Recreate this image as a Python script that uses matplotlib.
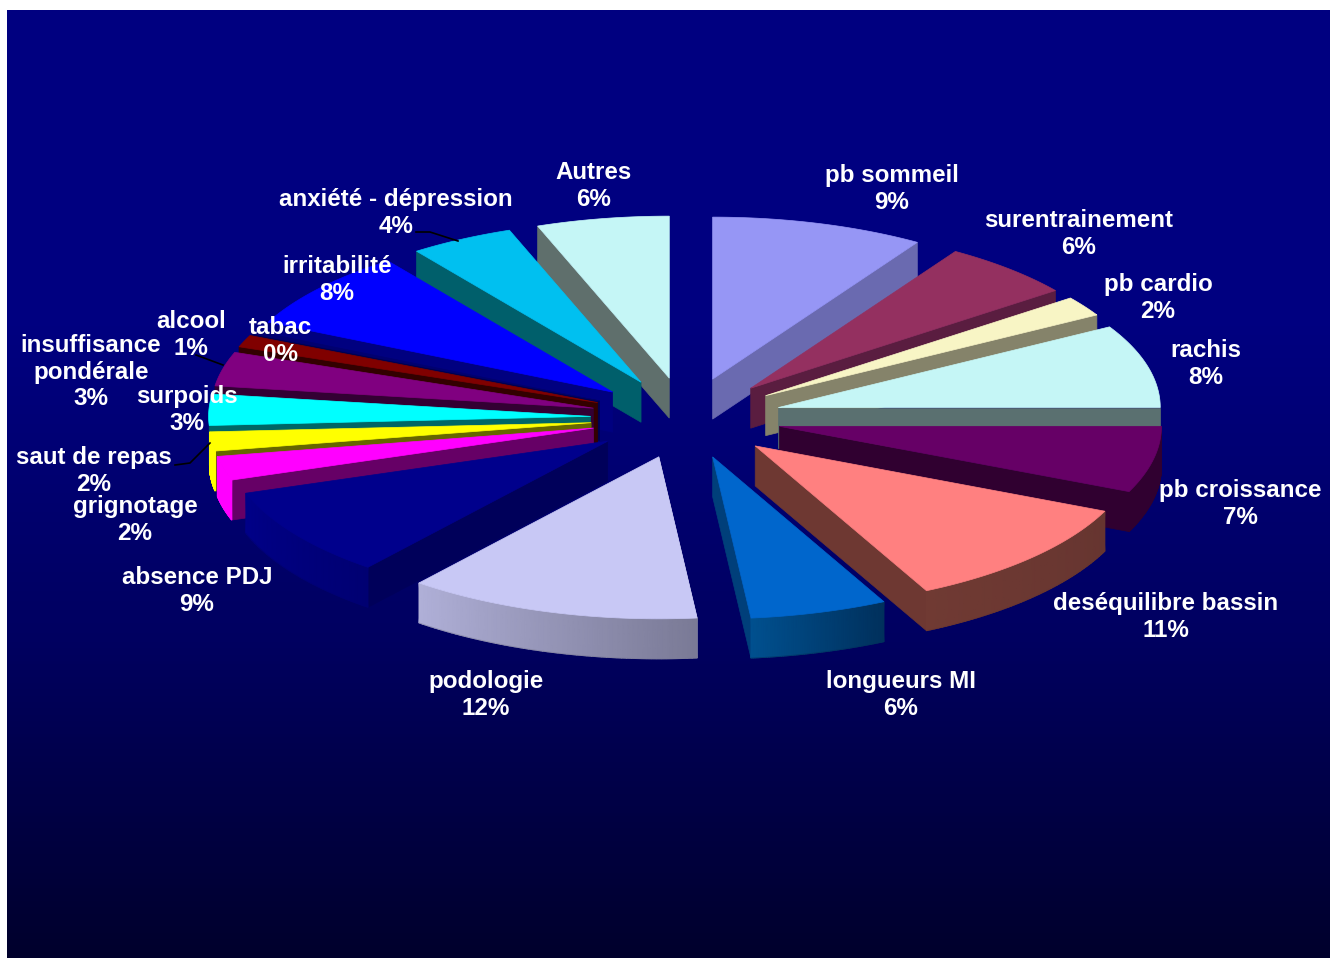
#!/usr/bin/env python3
"""Exploded pseudo-3D pie chart on a navy gradient background."""

import matplotlib

matplotlib.use("Agg")

import matplotlib.pyplot as plt
import numpy as np
from matplotlib.colors import LinearSegmentedColormap, to_rgb
from matplotlib.patches import Polygon

# Chart data, clockwise from twelve o'clock
categories = [
    "pb sommeil", "surentrainement", "pb cardio", "rachis", "pb croissance",
    "deséquilibre bassin", "longueurs MI", "podologie", "absence PDJ",
    "grignotage", "saut de repas", "surpoids", "insuffisance\npondérale",
    "alcool", "tabac", "irritabilité", "anxiété - dépression", "Autres",
]
shares = [9.0, 5.7, 2.0, 8.3, 6.6, 11.0, 5.8, 12.4, 9.0,
          2.4, 1.9, 3.1, 3.4, 1.2, 0.3, 7.9, 4.4, 5.6]

# Slice styling
top_colors = [
    "#9696F5", "#943060", "#F8F5C5", "#C5F6F6", "#660066", "#FF8080",
    "#0066CC", "#C8C8F5", "#00008C", "#FF00FF", "#FFFF00", "#00FFFF",
    "#800080", "#800000", "#000070", "#0000FF", "#00C0F0", "#C5F6F6",
]
wall_colors = [
    "#6A6AB0", "#5A1D40", "#85836A", "#5A7070", "#300030", "#6E3832",
    "#003F7A", "#ADADD2", "#00005A", "#660066", "#666600", "#006666",
    "#330033", "#330000", "#000050", "#000080", "#005F6B", "#5F6F6C",
]
rim_start = [
    "#6A6AB0", "#5A1D40", "#85836A", "#5A7070", "#300030", "#663530",
    "#00305C", "#7A7A96", "#000072", "#FF00FF", "#FFFF00", "#00FFFF",
    "#800080", "#800000", "#000070", "#0000FF", "#00C0F0", "#C5F6F6",
]
rim_end = [
    "#6A6AB0", "#5A1D40", "#85836A", "#5A7070", "#300030", "#703A33",
    "#00508F", "#B0B0D8", "#000088", "#FF00FF", "#FFFF00", "#00FFFF",
    "#800080", "#800000", "#000070", "#0000FF", "#00C0F0", "#C5F6F6",
]

# Label centres in pixels
label_pos = [
    (892, 189), (1079, 234), (1158, 298), (1206, 364), (1240, 504),
    (1166, 617), (901, 695), (486, 695), (197, 591),
    (135, 520), (94, 471), (187, 410), (91, 372),
    (191, 335), (280, 341), (337, 280), (396, 213), (594, 186),
]

# Pie geometry in pixels
CENTER_X, CENTER_Y = 686, 418
RADIUS_X, RADIUS_Y = 382, 162
DEPTH = 40
EXPLODE = 0.25


def rim_points(start_deg, end_deg, n=60):
    """Ellipse points, angles clockwise from the top."""
    angles = np.radians(np.linspace(start_deg, end_deg, n))
    return angles, RADIUS_X * np.sin(angles), -RADIUS_Y * np.cos(angles)


def draw_slice(ax, start_deg, end_deg, top, wall, rim_a, rim_b):
    mid = np.radians((start_deg + end_deg) / 2)
    apex_x = CENTER_X + EXPLODE * RADIUS_X * np.sin(mid)
    apex_y = CENTER_Y - EXPLODE * RADIUS_Y * np.cos(mid)

    angles, dx, dy = rim_points(start_deg, end_deg)
    xs = apex_x + dx
    ys = apex_y + dy

    # Radial wall: the end edge faces us on the right, the start edge on the left
    idx = -1 if mid < np.pi else 0
    ax.add_patch(Polygon(
        [(apex_x, apex_y), (xs[idx], ys[idx]), (xs[idx], ys[idx] + DEPTH), (apex_x, apex_y + DEPTH)],
        facecolor=wall, edgecolor=wall, linewidth=0.5,
    ))

    # Outer rim, only for slices in the front half
    if np.cos(mid) < 0:
        cmap = LinearSegmentedColormap.from_list("rim", [rim_a, rim_b])
        shade = np.linspace(0, 1, xs.size)
        ax.pcolormesh(
            np.vstack([xs, xs]), np.vstack([ys, ys + DEPTH]), np.vstack([shade, shade]),
            shading="gouraud", cmap=cmap, vmin=0, vmax=1,
        )
        # Smooth the lower edge of the rim
        ax.plot(xs, ys + DEPTH, color=rim_a, lw=0.6, alpha=0.6)

    # Top face
    ax.add_patch(Polygon(
        np.vstack([[apex_x, apex_y], np.column_stack([xs, ys])]),
        facecolor=top, edgecolor=top, linewidth=0.5,
    ))


fig = plt.figure(figsize=(13.33, 9.58), dpi=100, facecolor="white")
ax = fig.add_axes([0, 0, 1, 1])
ax.axis("off")

# Background gradient
gradient = np.array([to_rgb("#000080"), to_rgb("#000080"), to_rgb("#000060"), to_rgb("#00002C")])
rows = np.linspace(0, 3, 300)
image = np.stack([np.interp(rows, range(4), gradient[:, c]) for c in range(3)], axis=1)[:, None, :]
ax.imshow(image, extent=(7, 1330, 958, 10), aspect="auto", zorder=0)
ax.set_xlim(0, 1333)
ax.set_ylim(958, 0)

# Slices, painted from back to front
total = sum(shares)
edges = np.cumsum([0] + shares) / total * 360
mids = (edges[:-1] + edges[1:]) / 2
for i in np.argsort(-np.cos(np.radians(mids))):
    draw_slice(ax, edges[i], edges[i + 1], top_colors[i], wall_colors[i], rim_start[i], rim_end[i])

# Leader lines
ax.plot([416, 430, 458], [232, 232, 241], color="black", lw=1.2, zorder=3)
ax.plot([196, 223], [355, 365], color="black", lw=1.2, zorder=3)
ax.plot([175, 190, 210], [465, 463, 443], color="black", lw=1.2, zorder=3)

# Labels
for name, share, (x, y) in zip(categories, shares, label_pos):
    ax.text(x, y, f"{name}\n{round(share)}%", color="white", fontsize=17.35, fontweight="bold",
            family="Liberation Sans", ha="center", va="center", linespacing=1.22, zorder=4)

fig.savefig("out.png", dpi=100, facecolor="white")
